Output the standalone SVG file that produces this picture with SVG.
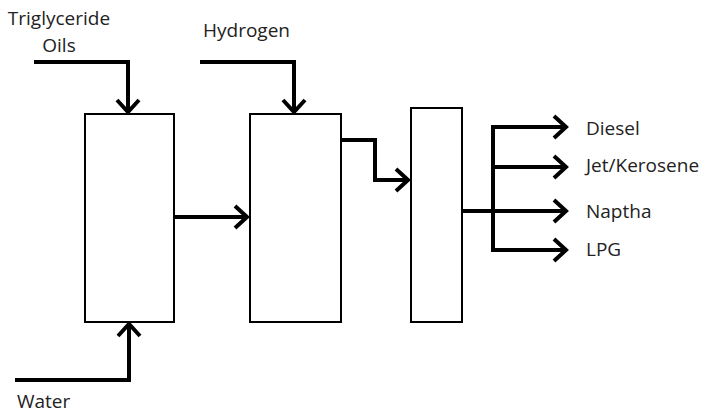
<svg xmlns="http://www.w3.org/2000/svg" width="707" height="413" viewBox="0 0 707 413">
<style>
.box{fill:#fff;stroke:#000;stroke-width:2}
.flow{fill:none;stroke:#000;stroke-width:4;stroke-linejoin:miter}
.arr{marker-end:url(#chev)}
text{font-family:"Open Sans","Liberation Sans",sans-serif;font-size:19px;fill:#222}
</style>
<defs>
<marker id="chev" markerUnits="userSpaceOnUse" markerWidth="30" markerHeight="30" refX="0" refY="0" orient="auto" overflow="visible">
<path d="M-12,-11 L0,0 L-12,11" fill="none" stroke="#000" stroke-width="4"/>
</marker>
</defs>
<g id="reactor1"><rect class="box" x="85" y="114" width="89" height="208"/></g>
<g id="reactor2"><rect class="box" x="250" y="114" width="91" height="208"/></g>
<g id="separator"><rect class="box" x="411" y="108" width="51" height="214"/></g>
<g id="labels">
<text x="59" y="25" text-anchor="middle">Triglyceride</text>
<text x="59" y="52" text-anchor="middle">Oils</text>
<text x="203" y="37">Hydrogen</text>
<text x="17" y="408">Water</text>
<text x="586" y="135">Diesel</text>
<text x="586" y="172">Jet/Kerosene</text>
<text x="586" y="218">Naptha</text>
<text x="586" y="256">LPG</text>
</g>
<g id="connectors">
<path class="flow arr" d="M34,62 H128 V112"/>
<path class="flow arr" d="M200,62 H294 V112"/>
<path class="flow arr" d="M15,380 H129 V324"/>
<path class="flow arr" d="M174,217 H247"/>
<path class="flow arr" d="M341,140 H375 V180 H408"/>
<path class="flow arr" d="M462,211 H566"/>
<path class="flow" d="M493,250 V127"/>
<path class="flow arr" d="M491,127 H566"/>
<path class="flow arr" d="M493,167 H566"/>
<path class="flow arr" d="M491,250 H566"/>
</g>
</svg>
